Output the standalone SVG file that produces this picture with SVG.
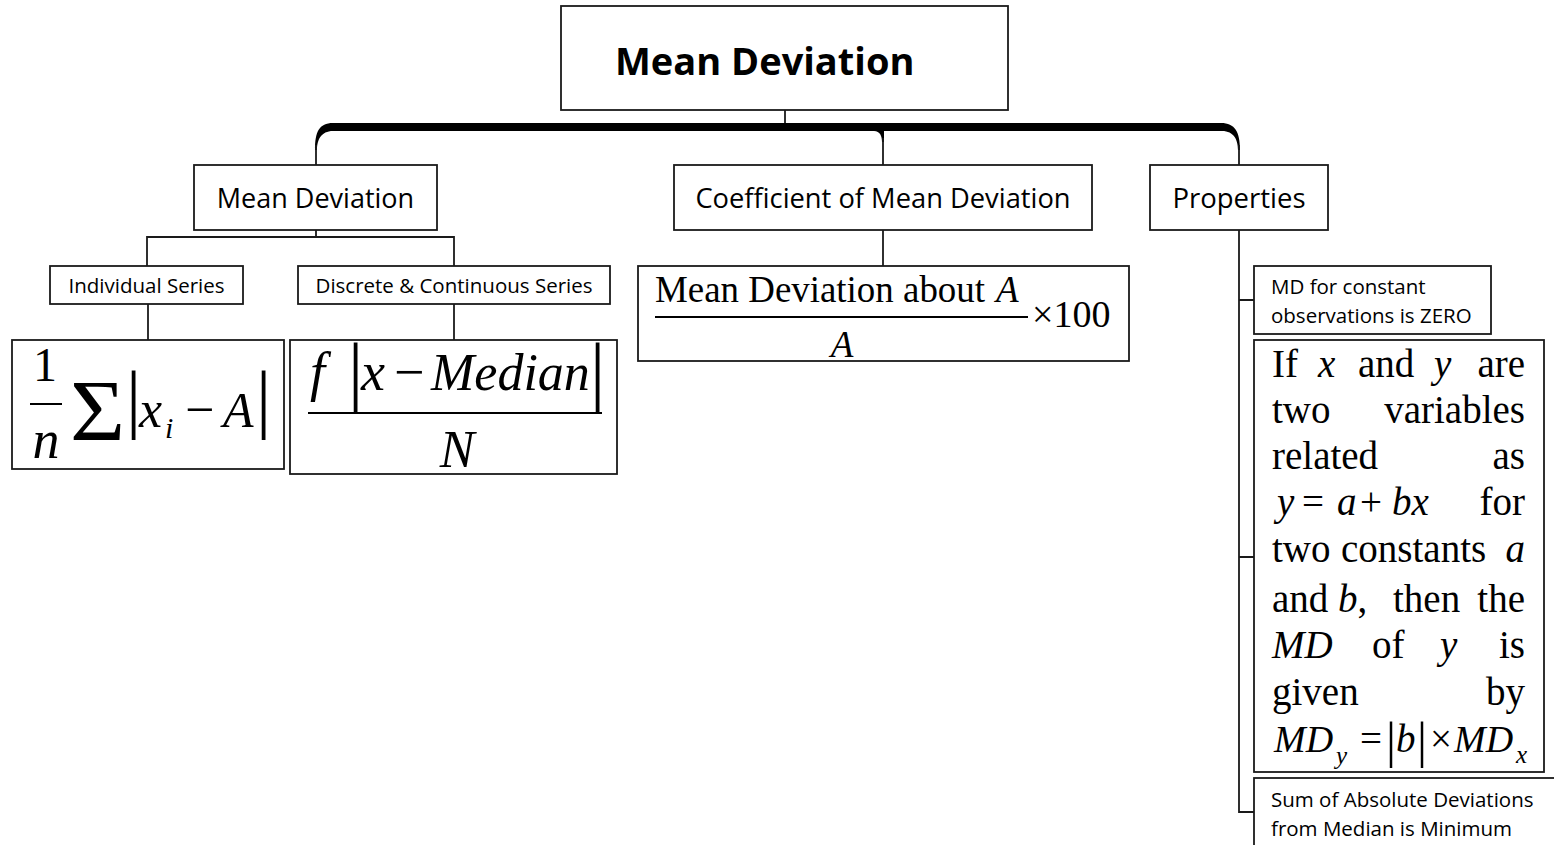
<svg xmlns="http://www.w3.org/2000/svg" width="1554" height="845" viewBox="0 0 1554 845">
<style>
.box{fill:#fff;stroke:#1a1a1a;stroke-width:1.8}
.ln{stroke:#1a1a1a;stroke-width:1.8;fill:none}
.os{font-family:"Open Sans","Liberation Sans",sans-serif;fill:#000}
.m{font-family:"Liberation Serif","Times New Roman",serif;fill:#000}
.i{font-style:italic}
.fl{stroke:#000;stroke-width:2}
</style>
<rect width="1554" height="845" fill="#fff"/>
<g id="connectors">
<line class="ln" x1="785" y1="110" x2="785" y2="124"/>
<path d="M315,150 C315,132 319,123 333,123 L1221,123 C1235,123 1240,132 1240,150 L1238,150 C1238,140 1234,131 1222,131 L884,131 L884,142 L882,142 C882,136 880,131 874,131 L333,131 C321,131 317,140 317,150 Z" fill="#000"/>
<line class="ln" x1="316" y1="145" x2="316" y2="166"/>
<line class="ln" x1="883" y1="138" x2="883" y2="166"/>
<line class="ln" x1="1239" y1="145" x2="1239" y2="166"/>
<path class="ln" d="M316,230 V237 M147,266 V237 H454 V266"/>
<line class="ln" x1="148" y1="304" x2="148" y2="340"/>
<line class="ln" x1="454" y1="304" x2="454" y2="340"/>
<line class="ln" x1="883" y1="230" x2="883" y2="266"/>
<path class="ln" d="M1239,230 V812 H1254 M1239,300 H1254 M1239,557 H1254"/>
</g>
<g id="root">
<rect class="box" x="561" y="6" width="447" height="104"/>
<text class="os" x="615" y="75" font-size="38" font-weight="bold">Mean Deviation</text>
</g>
<g id="md">
<rect class="box" x="194" y="165" width="243" height="65"/>
<text class="os" x="315.5" y="208" font-size="27" text-anchor="middle">Mean Deviation</text>
</g>
<g id="coef">
<rect class="box" x="674" y="165" width="418" height="65"/>
<text class="os" x="883" y="208" font-size="27.3" text-anchor="middle">Coefficient of Mean Deviation</text>
</g>
<g id="props">
<rect class="box" x="1150" y="165" width="178" height="65"/>
<text class="os" x="1239" y="208" font-size="27.5" text-anchor="middle">Properties</text>
</g>
<g id="indiv">
<rect class="box" x="50" y="266" width="193" height="38"/>
<text class="os" x="146.5" y="293" font-size="20.5" text-anchor="middle">Individual Series</text>
</g>
<g id="discrete">
<rect class="box" x="298" y="266" width="312" height="38"/>
<text class="os" x="454" y="293" font-size="20.5" text-anchor="middle">Discrete &amp; Continuous Series</text>
</g>
<g id="formula1">
<rect class="box" x="12" y="340" width="272" height="129"/>
<text class="m" x="45" y="381" font-size="48" text-anchor="middle">1</text>
<line class="fl" x1="30" y1="404" x2="62" y2="404"/>
<text class="m i" x="46" y="458" font-size="54" text-anchor="middle">n</text>
<text class="m" x="70" y="440" font-size="86" transform="translate(70 0) scale(1.1 1) translate(-70 0)">Σ</text>
<text class="m" x="126" y="424" font-size="76">|</text>
<text class="m i" x="139" y="427" font-size="52">x</text>
<text class="m i" x="165" y="438" font-size="30">i</text>
<text class="m" x="185" y="427" font-size="52">−</text>
<text class="m i" x="223" y="427" font-size="50">A</text>
<text class="m" x="256" y="424" font-size="76">|</text>
</g>
<g id="formula2">
<rect class="box" x="290" y="340" width="327" height="134"/>
<text class="m i" x="310" y="390" font-size="54">f</text>
<text class="m" x="348" y="396" font-size="76">|</text>
<text class="m i" x="361" y="390" font-size="54">x</text>
<text class="m" x="394" y="390" font-size="54">−</text>
<text class="m i" x="431" y="390" font-size="52">Median</text>
<text class="m" x="590" y="396" font-size="76">|</text>
<line class="fl" x1="308" y1="413" x2="602" y2="413"/>
<text class="m i" x="457" y="467" font-size="52" text-anchor="middle">N</text>
</g>
<g id="formula3">
<rect class="box" x="638" y="266" width="491" height="95"/>
<text class="m" x="655" y="302" font-size="37" textLength="330" lengthAdjust="spacingAndGlyphs">Mean Deviation about</text>
<text class="m i" x="996" y="302" font-size="37">A</text>
<line class="fl" x1="655" y1="317" x2="1028" y2="317"/>
<text class="m i" x="842" y="357" font-size="37" text-anchor="middle">A</text>
<text class="m" x="1032" y="327" font-size="38">×100</text>
</g>
<g id="prop1">
<rect class="box" x="1254" y="266" width="237" height="68"/>
<text class="os" x="1271" y="294" font-size="20.5">MD for constant</text>
<text class="os" x="1271" y="323" font-size="20.5">observations is ZERO</text>
</g>
<g id="prop2">
<rect class="box" x="1254" y="340" width="290" height="432"/>
<g class="m" font-size="39">
<text x="1272" y="377">If</text><text class="i" x="1318" y="377">x</text><text x="1358" y="377">and</text><text class="i" x="1434" y="377">y</text><text x="1525" y="377" text-anchor="end">are</text>
<text x="1272" y="423">two</text><text x="1525" y="423" text-anchor="end">variables</text>
<text x="1272" y="469">related</text><text x="1525" y="469" text-anchor="end">as</text>
<text class="i" x="1277" y="515">y</text><text x="1302" y="515">=</text><text class="i" x="1337" y="515">a</text><text x="1360" y="515">+</text><text class="i" x="1392" y="515">bx</text><text x="1525" y="515" text-anchor="end">for</text>
<text x="1272" y="562">two</text><text x="1341" y="562">constants</text><text class="i" x="1525" y="562" text-anchor="end">a</text>
<text x="1272" y="612">and</text><text x="1338" y="612"><tspan font-style="italic">b</tspan>,</text><text x="1393" y="612">then</text><text x="1525" y="612" text-anchor="end">the</text>
<text class="i" x="1272" y="658">MD</text><text x="1372" y="658">of</text><text class="i" x="1440" y="658">y</text><text x="1525" y="658" text-anchor="end">is</text>
<text x="1272" y="705">given</text><text x="1525" y="705" text-anchor="end">by</text>
<text class="i" x="1274" y="752" font-size="38">MD</text><text class="i" x="1336" y="764" font-size="25">y</text><text x="1360" y="752">=</text><text x="1386" y="757" font-size="50">|</text><text class="i" x="1396" y="752">b</text><text x="1417" y="757" font-size="50">|</text><text x="1430" y="752">×</text><text class="i" x="1454" y="752" font-size="38">MD</text><text class="i" x="1516" y="763" font-size="25">x</text>
</g>
</g>
<g id="prop3">
<rect class="box" x="1254" y="778" width="310" height="80"/>
<text class="os" x="1271" y="807" font-size="20.5">Sum of Absolute Deviations</text>
<text class="os" x="1271" y="836" font-size="20.5">from Median is Minimum</text>
</g>
</svg>
